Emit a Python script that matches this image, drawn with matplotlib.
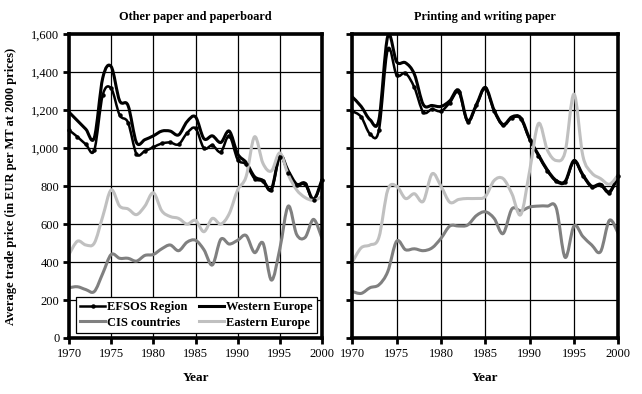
import numpy as np
import matplotlib
matplotlib.use('Agg')
import matplotlib.pyplot as plt
from matplotlib.path import Path
from matplotlib.patches import PathPatch
from matplotlib.lines import Line2D
from matplotlib.ticker import FuncFormatter

plt.rcParams['font.family'] = ['Liberation Serif', 'DejaVu Serif']

years = list(range(1970, 2001))

# Other paper and paperboard
other_efsos = [1095, 1060, 1020, 990, 1280, 1315, 1175, 1135, 970, 985, 1005, 1025, 1030, 1020, 1080, 1105,
               1000, 1015, 980, 1065, 940, 915, 840, 825, 780, 955, 870, 805, 810, 725, 830]
other_west = [1190, 1145, 1100, 1055, 1370, 1430, 1250, 1225, 1030, 1045, 1065, 1090, 1090, 1070, 1140, 1165,
              1050, 1065, 1030, 1090, 970, 925, 850, 830, 785, 960, 880, 810, 815, 730, 835]
other_cis = [265, 270, 255, 245, 340, 440, 420, 420, 405, 435, 440, 470, 490, 460, 505, 515,
             465, 385, 520, 495, 515, 540, 450, 500, 305, 470, 695, 545, 530, 625, 525]
other_east = [440, 510, 490, 500, 640, 780, 695, 680, 650, 695, 765, 670, 640, 630, 600, 620,
              560, 630, 600, 655, 780, 850, 1060, 920, 880, 975, 860, 780, 740, 725, 745]

# Printing and writing paper
print_efsos = [1195, 1165, 1075, 1095, 1520, 1385, 1395, 1320, 1190, 1205, 1195, 1240, 1295, 1140, 1225, 1315,
               1195, 1120, 1160, 1155, 1045, 960, 880, 825, 820, 930, 855, 795, 805, 765, 855]
print_west = [1270, 1220, 1150, 1150, 1590, 1455, 1450, 1390, 1230, 1225, 1220, 1250, 1305, 1145, 1230, 1320,
              1200, 1125, 1165, 1160, 1050, 965, 885, 830, 825, 935, 860, 800, 810, 770, 860]
print_cis = [245, 235, 265, 280, 350, 510, 465, 470, 460, 475, 525, 590, 590, 595, 645, 665,
             630, 550, 680, 670, 690, 695, 695, 685, 425, 590, 535, 490, 455, 620, 550]
print_east = [400, 475, 490, 530, 780, 800, 735, 760, 720, 865, 800, 715, 730, 735, 735, 745,
              830, 840, 760, 650, 880, 1130, 990, 935, 980, 1285, 960, 870, 840, 810, 860]

titles = ['Other paper and paperboard', 'Printing and writing paper']
series_names = ['EFSOS Region', 'Western Europe', 'CIS countries', 'Eastern Europe']
colors = ['#000000', '#000000', '#808080', '#c0c0c0']
widths = [1.8, 2.2, 2.2, 2.2]


def smooth_line(ax, x, y, color, lw):
    # excel-like smoothed line: bezier through the yearly points
    p = np.column_stack([x, y]).astype(float)
    n = len(p)
    verts = [p[0]]
    codes = [Path.MOVETO]
    for i in range(n - 1):
        a = p[i - 1] if i > 0 else p[i]
        d = p[i + 2] if i + 2 < n else p[i + 1]
        verts += [p[i] + (p[i + 1] - a) / 6, p[i + 1] - (d - p[i]) / 6, p[i + 1]]
        codes += [Path.CURVE4] * 3
    ax.add_patch(PathPatch(Path(verts, codes), fill=False, edgecolor=color, lw=lw,
                           joinstyle='round', capstyle='round', transform=ax.transData))


fig = plt.figure(figsize=(6.42, 3.94), dpi=100)
ax1 = fig.add_axes([69 / 642, 1 - 338 / 394, 253 / 642, 303.7 / 394])
ax2 = fig.add_axes([352.3 / 642, 1 - 338 / 394, 266 / 642, 303.7 / 394])

data = [[other_efsos, other_west, other_cis, other_east],
        [print_efsos, print_west, print_cis, print_east]]

for k, ax in enumerate([ax1, ax2]):
    ax.set_xlim(1970, 2000)
    ax.set_ylim(0, 1600)
    ax.set_xticks(range(1970, 2001, 5))
    ax.set_yticks(range(0, 1601, 200))
    ax.grid(True, color='black', lw=0.9)
    ax.set_axisbelow(True)
    for s in ax.spines.values():
        s.set_linewidth(2.6)
    ax.tick_params(direction='out', length=4, width=2, labelsize=9, pad=3)
    ax.yaxis.set_major_formatter(FuncFormatter(lambda v, p: f'{int(v):,}'))
    for vals, c, lw in zip(data[k], colors, widths):
        smooth_line(ax, years, vals, c, lw)
    ax.plot(years, data[k][0], 'o', color='black', ms=2.2, zorder=3, clip_on=False)
    ax.set_title(titles[k], fontsize=8.8, fontweight='bold', pad=10)
    ax.set_xlabel('Year', fontsize=9.5, fontweight='bold', labelpad=9)

ax2.tick_params(labelleft=False)
ax1.set_ylabel('Average trade price (in EUR per MT at 2000 prices)', fontsize=9, fontweight='bold')
ax1.yaxis.set_label_coords(-0.205, 0.5)

handles = [Line2D([], [], color=c, lw=lw) for c, lw in zip(colors, widths)]
handles[0].set_marker('o')
handles[0].set_markersize(2.2)
# ncol=2 fills column by column: rows read EFSOS | Western, CIS | Eastern
order = [0, 2, 1, 3]
leg = ax1.legend([handles[i] for i in order], [series_names[i] for i in order],
                 loc='lower left', ncol=2, mode='expand', borderaxespad=0,
                 bbox_to_anchor=(0.028, 0.016, 0.952, 0.126), prop={'weight': 'bold', 'size': 9},
                 handlelength=2.0, handletextpad=0.15, columnspacing=1.5, borderpad=0.35,
                 labelspacing=0.3, fancybox=False, framealpha=1, edgecolor='black')
leg.get_frame().set_linewidth(0.9)

fig.savefig('out.png', dpi=100)
